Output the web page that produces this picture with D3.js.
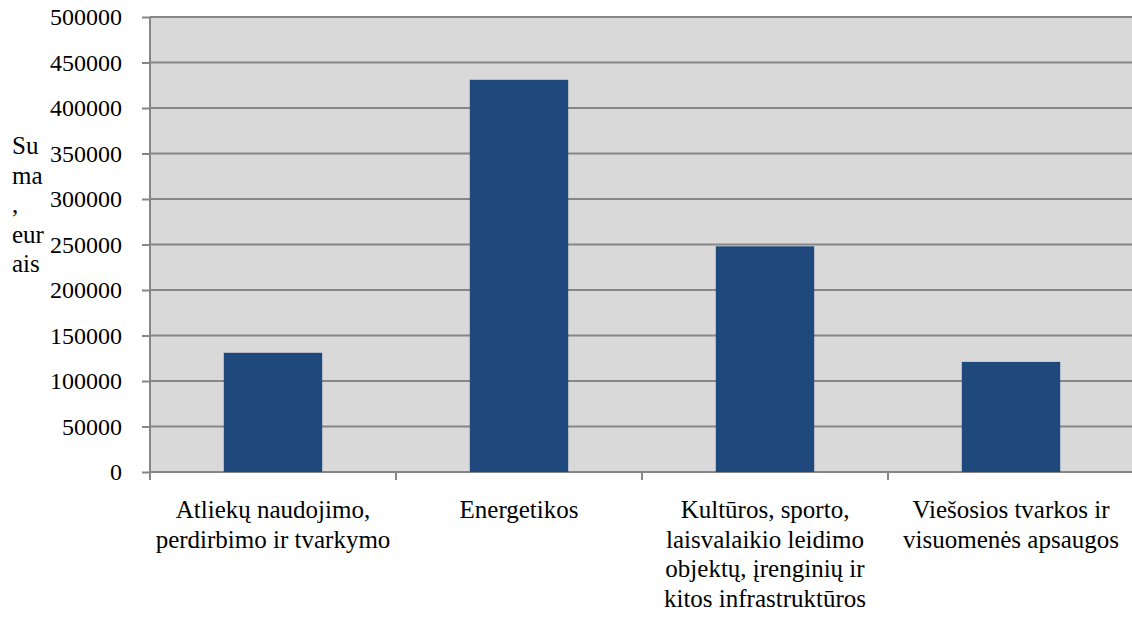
<!DOCTYPE html>
<html>
<head>
<meta charset="utf-8">
<script src="https://cdn.jsdelivr.net/npm/d3@7"></script>
<style>
  body { margin: 0; background: #fff; }
  svg { display: block; }
  svg text { font-family: "Times New Roman", "Liberation Serif", serif; }
</style>
</head>
<body>
<svg></svg>
<script>
const categories = [
  ["Atliekų naudojimo,", "perdirbimo ir tvarkymo"],
  ["Energetikos"],
  ["Kultūros, sporto,", "laisvalaikio leidimo", "objektų, įrenginių ir", "kitos infrastruktūros"],
  ["Viešosios tvarkos ir", "visuomenės apsaugos"]
];
const values = [131000, 431000, 248000, 121000];
const yTicks = [0, 50000, 100000, 150000, 200000, 250000, 300000, 350000, 400000, 450000, 500000];
const yLabel = ["Su", "ma", ",", "eur", "ais"];

const width = 1132;
const height = 621;
const svg = d3.select("svg").attr("width", width).attr("height", height);

const plotLeft = 150, plotRight = 1134, plotTop = 17, plotBottom = 472;
const gridColor = "#868686";

const x = d3.scaleBand()
    .domain(d3.range(categories.length))
    .range([plotLeft, plotRight])
    .paddingInner(0.6)
    .paddingOuter(0.3);

const xTickPos = d3.scaleLinear().domain([0, categories.length]).range([plotLeft, plotRight]);

const y = d3.scaleLinear()
    .domain([0, 500000])
    .range([plotBottom, plotTop]);

// plot background
svg.append("rect")
    .attr("x", plotLeft).attr("y", plotTop)
    .attr("width", plotRight - plotLeft).attr("height", plotBottom - plotTop)
    .attr("fill", "#d9d9d9");

// gridlines
svg.append("g").selectAll("line")
    .data(yTicks)
    .enter().append("line")
    .attr("x1", plotLeft).attr("x2", plotRight)
    .attr("y1", d => y(d)).attr("y2", d => y(d))
    .attr("stroke", gridColor)
    .attr("stroke-width", 2);

// y axis
const yAxis = d3.axisLeft(y).tickValues(yTicks).tickFormat(d3.format("d")).tickSize(8).tickPadding(20);
const gy = svg.append("g").attr("transform", `translate(${plotLeft},0)`).call(yAxis);
gy.attr("font-family", null).attr("font-size", null);
gy.select(".domain").attr("stroke", gridColor).attr("stroke-width", 2).attr("d", `M0,${plotTop}V${plotBottom}`);
gy.selectAll(".tick line").attr("stroke", gridColor).attr("stroke-width", 2);
gy.selectAll(".tick text").attr("font-size", 24).attr("fill", "#000");

// bars
svg.append("g").selectAll("rect")
    .data(values)
    .enter().append("rect")
    .attr("x", (d, i) => x(i))
    .attr("y", d => y(d))
    .attr("width", x.bandwidth())
    .attr("height", d => plotBottom - y(d))
    .attr("fill", "#1f497d");

// x ticks
svg.append("g").selectAll("line")
    .data(d3.range(categories.length + 1))
    .enter().append("line")
    .attr("x1", d => xTickPos(d)).attr("x2", d => xTickPos(d))
    .attr("y1", plotBottom).attr("y2", plotBottom + 8)
    .attr("stroke", gridColor)
    .attr("stroke-width", 2);

// category labels
const lineH = 29.5;
svg.append("g").selectAll("text")
    .data(categories)
    .enter().append("text")
    .attr("text-anchor", "middle")
    .attr("font-size", 25)
    .attr("fill", "#000")
    .each(function(lines, i) {
        const cx = x(i) + x.bandwidth() / 2;
        d3.select(this).selectAll("tspan")
            .data(lines)
            .enter().append("tspan")
            .attr("x", cx)
            .attr("y", (d, j) => 518 + j * lineH)
            .text(d => d);
    });

// y axis title
svg.append("text")
    .attr("font-size", 25)
    .attr("fill", "#000")
    .selectAll("tspan")
    .data(yLabel)
    .enter().append("tspan")
    .attr("x", 12)
    .attr("y", (d, j) => 154 + j * lineH)
    .text(d => d);
</script>
</body>
</html>
